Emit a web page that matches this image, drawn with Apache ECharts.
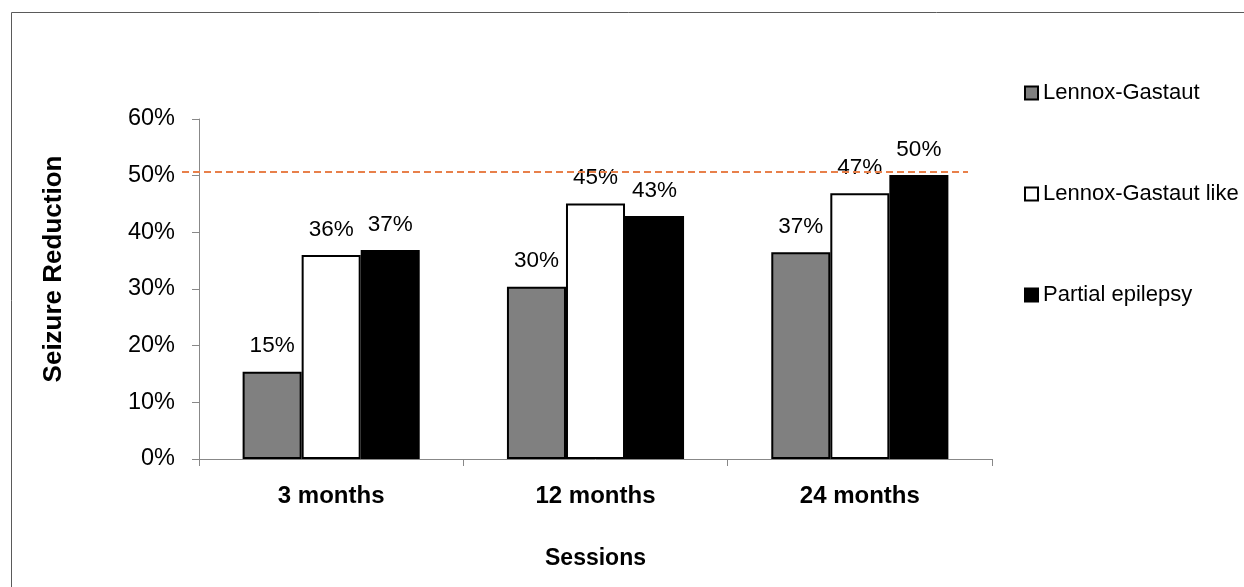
<!DOCTYPE html>
<html>
<head>
<meta charset="utf-8">
<script src="https://cdn.jsdelivr.net/npm/echarts@6/dist/echarts.min.js"></script>
<style>html,body{margin:0;padding:0;background:#fff;}#c{width:1244px;height:587px;}</style>
</head>
<body>
<div id="c"></div>
<script>
const categories = ['3 months', '12 months', '24 months'];
const seriesNames = ['Lennox-Gastaut', 'Lennox-Gastaut like', 'Partial epilepsy'];
const lennoxGastaut = [15.4, 30.4, 36.5];
const lennoxGastautLike = [36.0, 45.1, 46.9];
const partialEpilepsy = [36.9, 42.9, 50.1];
const yTicks = [0, 10, 20, 30, 40, 50, 60];
const referenceLine = 50.7;

const FONT = '"Liberation Sans", Arial, sans-serif';
const chart = echarts.init(document.getElementById('c'), null, {renderer: 'canvas'});

const fills = ['#808080', '#ffffff', '#000000'];
const values = [lennoxGastaut, lennoxGastautLike, partialEpilepsy];

const series = seriesNames.map((name, i) => ({
  name: name,
  type: 'bar',
  data: values[i],
  barGap: '0%',
  barCategoryGap: '33%',
  itemStyle: {color: fills[i], borderColor: '#000', borderWidth: 2},
  label: {
    show: true, position: 'top', distance: 14,
    fontFamily: FONT, fontSize: 22.5, color: '#000',
    formatter: p => Math.round(p.value) + '%'
  },
  markLine: i === 0 ? {
    silent: true, symbol: 'none', animation: false,
    label: {show: false},
    lineStyle: {color: '#E8804A', width: 2, type: [7, 4]},
    data: [[{x: 182, yAxis: referenceLine}, {x: 968, yAxis: referenceLine}]]
  } : undefined
}));

chart.setOption({
  animation: false,
  backgroundColor: '#fff',
  grid: {left: 199, right: 252, top: 119, bottom: 128, containLabel: false, outerBoundsMode: 'none'},
  legend: {
    orient: 'vertical', left: 1019, top: 77,
    itemWidth: 13, itemHeight: 13, itemGap: 79,
    icon: 'rect',
    textStyle: {fontFamily: FONT, fontSize: 22, color: '#000', lineHeight: 22},
    itemStyle: {borderColor: '#000', borderWidth: 2},
    data: seriesNames
  },
  xAxis: {
    type: 'category', data: categories,
    name: 'Sessions', nameLocation: 'middle', nameGap: 88,
    nameTextStyle: {fontFamily: FONT, fontSize: 23, fontWeight: 'bold', color: '#000'},
    axisLine: {lineStyle: {color: '#888', width: 1}},
    axisTick: {show: true, length: 7, alignWithLabel: false, lineStyle: {color: '#888'}},
    axisLabel: {fontFamily: FONT, fontSize: 24, fontWeight: 'bold', color: '#000', margin: 25}
  },
  yAxis: {
    type: 'value', min: yTicks[0], max: yTicks[yTicks.length - 1], interval: 10,
    axisLine: {show: true, lineStyle: {color: '#888', width: 1}},
    axisTick: {show: true, length: 7, lineStyle: {color: '#888'}},
    splitLine: {show: false},
    axisLabel: {fontFamily: FONT, fontSize: 23.5, color: '#000', margin: 24, formatter: '{value}%'}
  },
  graphic: [
    {type: 'rect', silent: true, z: -1,
     shape: {x: 11.5, y: 12.5, width: 1300, height: 700},
     style: {fill: 'none', stroke: '#5a5a5a', lineWidth: 1}},
    {type: 'text', x: 54, y: 269, rotation: Math.PI / 2,
     style: {text: 'Seizure Reduction', fontFamily: FONT, fontSize: 26, fontWeight: 'bold',
             fill: '#000', align: 'center', verticalAlign: 'middle'}}
  ],
  series: series
});
</script>
</body>
</html>
